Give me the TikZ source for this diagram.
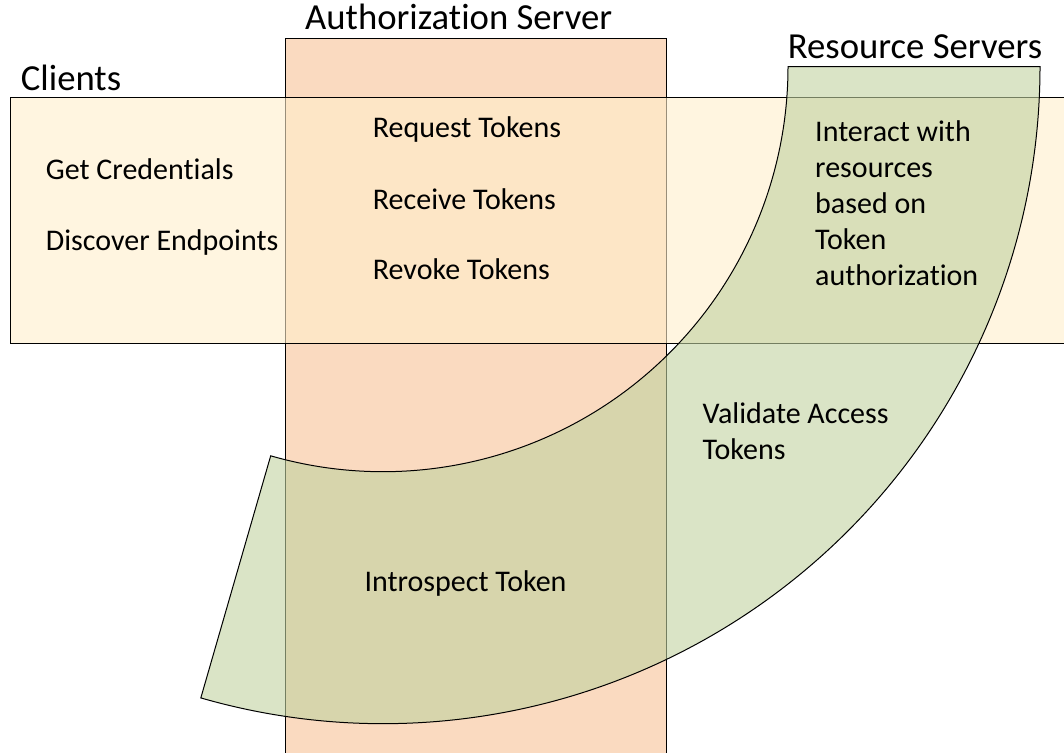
\documentclass[tikz,border=0pt]{standalone}
\usepackage{fontspec}
\setmainfont{Carlito}[Ligatures=NoCommon]
\definecolor{authfill}{RGB}{250,218,192}
\definecolor{clientfill}{RGB}{255,238,203}
\definecolor{rsfill}{RGB}{193,210,160}
\tikzset{
  band/.style={draw=black, line width=1pt},
  heading/.style={anchor=base west, inner sep=0pt, font=\fontsize{36.7}{44}\selectfont},
  item/.style={anchor=base west, inner sep=0pt, font=\fontsize{30}{36}\selectfont, align=left},
}
\begin{document}
\begin{tikzpicture}[x=1pt,y=-1pt]
\useasboundingbox (0,0) rectangle (1064,752);
\clip (0,0) rectangle (1064,752);

% Authorization Server column
\draw[band, fill=authfill] (285.5,39) rectangle (666.7,770);
% Clients band (semi-transparent, over the column)
\draw[band, fill=clientfill, fill opacity=0.6] (10.7,97) rectangle (1080,343.5);
% Resource Servers block arc
\coordinate (c) at (383,66.7);
\draw[band, fill=rsfill, fill opacity=0.6]
  ([shift={(0:657pt)}]c) arc[start angle=0, end angle=-106.1, radius=657pt]
  -- ([shift={(-106.1:405pt)}]c) arc[start angle=-106.1, end angle=0, radius=405pt]
  -- cycle;

% Headings
\node[heading] (hcl) at (20.7,90.7) {Clients};
\node[heading] (has) at (305,30) {Authorization Server};
\node[heading] (hrs) at (787.7,58.3) {Resource Servers};

% Client items
\node[item] (cl1) at (45.7,179) {Get Credentials};
\node[item] (cl2) at (45.7,250) {Discover Endpoints};

% Authorization Server items
\node[item] (as1) at (372.7,137.7) {Request Tokens};
\node[item] (as2) at (372.7,209) {Receive Tokens};
\node[item] (as3) at (372.7,279.3) {Revoke Tokens};
\node[item] (as4) at (364.3,591) {Introspect Token};

% Resource Server items (anchored on the baseline of their last line)
\node[item] (rs1) at (815,285) {Interact with\\resources\\based on\\Token\\authorization};
\node[item] (rs2) at (702.5,459.3) {Validate Access\\Tokens};
\end{tikzpicture}
\end{document}
